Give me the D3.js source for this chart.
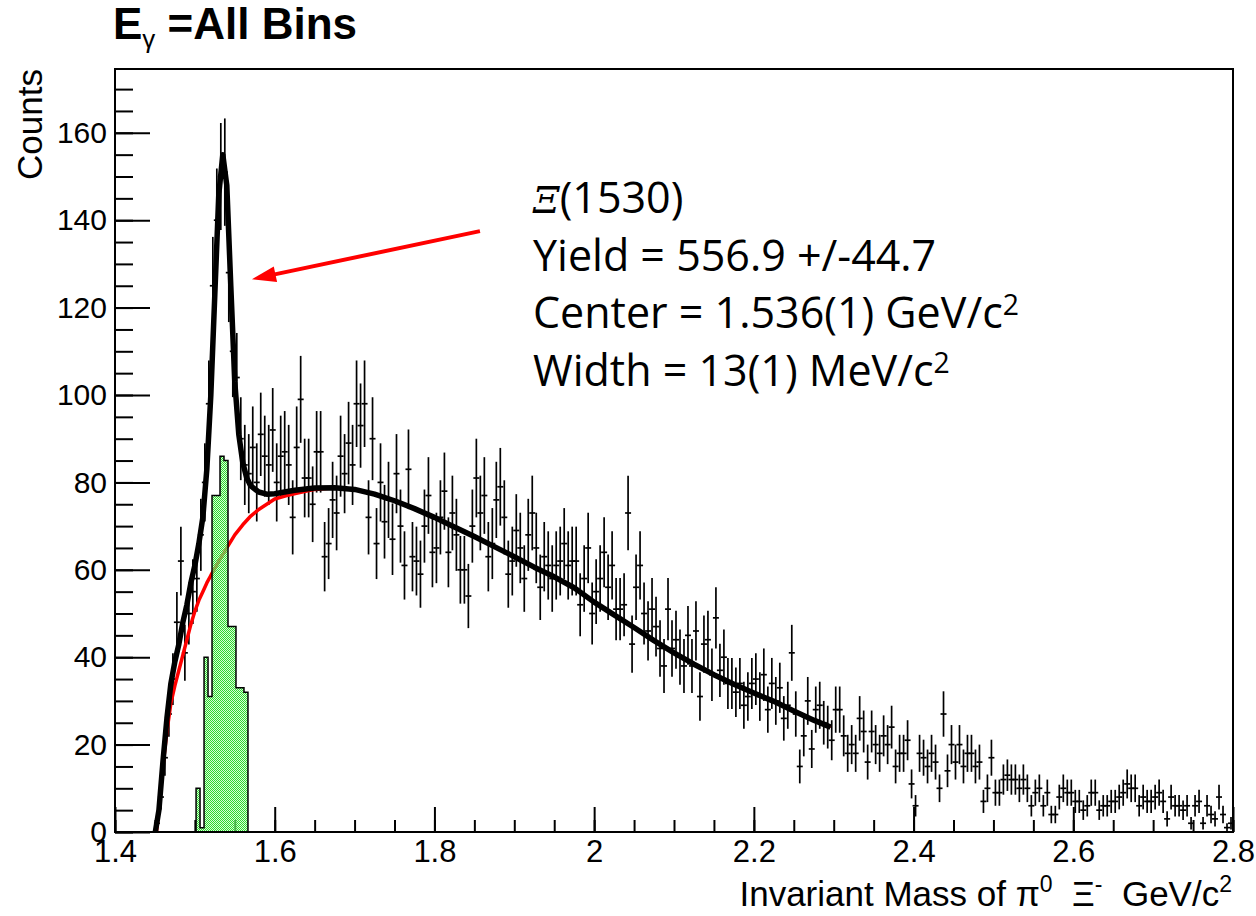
<!DOCTYPE html>
<html>
<head>
<meta charset="utf-8">
<script src="https://cdn.jsdelivr.net/npm/d3@7"></script>
<style>
  html, body { margin: 0; padding: 0; background: #fff; }
  svg { display: block; }
  text { white-space: pre; }
</style>
</head>
<body>
<svg id="chart" width="1256" height="916"></svg>
<script>
// ---- axis ticks ----
const xTickValues = [1.4, 1.6, 1.8, 2.0, 2.2, 2.4, 2.6, 2.8];
const xMinorStep = 0.05;
const yTickValues = [0, 20, 40, 60, 80, 100, 120, 140, 160];
const yMinorStep = 5;

// ---- measured invariant-mass histogram (counts per 5 MeV bin, starting at 1.45 GeV) ----
const binLowEdge = 1.45;
const binWidth = 0.005;
const counts = [
  2, 8, 17, 27, 35, 48, 62, 41, 50, 55,
  58, 68, 80, 98, 125, 140, 150, 151, 128, 110,
  104, 90, 84, 82, 88, 80, 91, 86, 84, 92,
  80, 86, 87, 84, 72, 88, 99, 81, 81, 75,
  87, 87, 63, 66, 76, 73, 86, 82, 89, 84,
  98, 93, 98, 72, 90, 66, 80, 71, 76, 67,
  82, 70, 61, 83, 63, 62, 59, 70, 77, 64,
  65, 72, 78, 64, 73, 68, 60, 60, 54, 70,
  81, 73, 77, 63, 66, 76, 79, 72, 59, 62,
  69, 65, 58, 68, 73, 65, 56, 63, 61, 58,
  61, 62, 66, 61, 62, 62, 52, 58, 65, 50,
  55, 58, 64, 56, 61, 51, 51, 52, 73, 43,
  56, 61, 50, 46, 51, 47, 42, 38, 51, 42,
  44, 40, 38, 45, 38, 46, 31, 43, 44, 36,
  49, 37, 40, 34, 34, 32, 34, 29, 31, 34,
  35, 31, 36, 28, 34, 30, 33, 26, 29, 41,
  27, 15, 22, 30, 19, 28, 29, 25, 24, 21,
  28, 28, 22, 18, 20, 18, 26, 23, 16, 23,
  20, 18, 22, 20, 24, 15, 18, 18, 21, 11,
  6, 18, 17, 15, 18, 16, 10, 27, 14, 20,
  16, 20, 15, 18, 18, 15, 16, 7, 10, 17,
  9, 9, 12, 13, 12, 12, 10, 12, 10, 6,
  9, 10, 6, 9, 4, 4, 8, 10, 9, 9,
  7, 7, 5, 6, 9, 9, 5, 6, 6, 7,
  7, 8, 9, 11, 10, 10, 6, 8, 7, 7,
  8, 9, 7, 3, 8, 6, 6, 5, 6, 2,
  6, 7, 2, 6, 4, 3, 8, 4, 1, 2
];

// ---- extracted signal histogram ----
const signalLowEdge = 1.5015;
const signalCounts = [10, 1, 40, 31, 77, 77, 86, 85, 47, 47, 33, 33, 32];

// ---- total fit (signal + background) ----
const fitMass = [
  1.4505, 1.455, 1.46, 1.465, 1.47, 1.475, 1.48, 1.485, 1.49, 1.495,
  1.50, 1.505, 1.51, 1.515, 1.52, 1.525, 1.53, 1.535, 1.54, 1.545,
  1.55, 1.555, 1.56, 1.565, 1.57, 1.58, 1.59, 1.60, 1.625, 1.65,
  1.675, 1.70, 1.725, 1.75, 1.775, 1.80, 1.825, 1.85, 1.875, 1.90,
  1.925, 1.95, 1.975, 2.00, 2.025, 2.05, 2.075, 2.10, 2.125, 2.15,
  2.175, 2.20, 2.225, 2.25, 2.275, 2.296
];
const fitTotal = [
  0, 5, 16, 26, 34, 39, 43, 48, 52, 57,
  61, 66, 72, 83, 100, 123, 146, 155, 148, 125,
  103, 91, 84.5, 81, 79.2, 77.8, 77.3, 77.4, 78.2, 78.7,
  78.8, 78.4, 77.3, 75.8, 74, 72, 69.8, 67.6, 65.3, 63,
  60.6, 58.4, 55.9, 52.6, 49.7, 46.8, 43.8, 41, 38.4, 36,
  33.8, 31.8, 29.9, 27.7, 25.6, 24
];

// ---- background component ----
const bkgMass = [
  1.452, 1.46, 1.465, 1.47, 1.475, 1.48, 1.485, 1.49, 1.495, 1.50,
  1.505, 1.51, 1.515, 1.52, 1.525, 1.53, 1.54, 1.55, 1.56, 1.57,
  1.58, 1.59, 1.60, 1.615, 1.63, 1.65, 1.675, 1.70, 1.725, 1.75,
  1.775, 1.80, 1.825, 1.85, 1.875, 1.90, 1.925, 1.95, 1.975, 2.00,
  2.025, 2.05, 2.075, 2.10, 2.125, 2.15, 2.175, 2.20, 2.225, 2.25,
  2.275, 2.296
];
const bkgValues = [
  0, 15, 23, 29.5, 33.5, 37, 40.5, 44, 47.5, 50.5,
  53, 55, 57, 58.7, 60.3, 62, 65, 68, 70.3, 72.3,
  73.8, 75, 76.2, 77, 77.6, 78.4, 78.8, 78.4, 77.3, 75.8,
  74, 72, 69.8, 67.6, 65.3, 63, 60.6, 58.4, 55.9, 52.6,
  49.7, 46.8, 43.8, 41, 38.4, 36, 33.8, 31.8, 29.9, 27.7,
  25.6, 24
];

// ---- fit summary ----
const fitLines = [
  { kind: "name", text: "(1530)" },
  { kind: "plain", text: "Yield = 556.9 +/-44.7" },
  { kind: "sup", text: "Center = 1.536(1) GeV/c", sup: "2" },
  { kind: "sup", text: "Width = 13(1) MeV/c", sup: "2" }
];
// arrow from the summary toward the peak (data coordinates)
const arrowFrom = [1.857, 137.5];
const arrowTo = [1.5715, 126.5];

// ---------------------------------------------------------------
const svg = d3.select("#chart");
const frame = { left: 115, right: 1233, top: 69, bottom: 832 };
const helv = "'Liberation Sans', Arial, Helvetica, sans-serif";

const x = d3.scaleLinear().domain([1.4, 2.8]).range([frame.left, frame.right]);
const y = d3.scaleLinear().domain([0, 174.6]).range([frame.bottom, frame.top]);

const defs = svg.append("defs");
defs.append("clipPath").attr("id", "plotClip")
  .append("rect")
  .attr("x", frame.left).attr("y", frame.top)
  .attr("width", frame.right - frame.left).attr("height", frame.bottom - frame.top);

const pat = defs.append("pattern").attr("id", "greenFill")
  .attr("width", 2).attr("height", 2).attr("patternUnits", "userSpaceOnUse");
pat.append("rect").attr("x", 0).attr("y", 0).attr("width", 1).attr("height", 1).attr("fill", "#2ed82e");
pat.append("rect").attr("x", 1).attr("y", 1).attr("width", 1).attr("height", 1).attr("fill", "#2ed82e");
pat.append("rect").attr("x", 1).attr("y", 0).attr("width", 1).attr("height", 1).attr("fill", "#b8fab8").attr("fill-opacity", 0.55);
pat.append("rect").attr("x", 0).attr("y", 1).attr("width", 1).attr("height", 1).attr("fill", "#b8fab8").attr("fill-opacity", 0.55);

// ---- title ----
const title = svg.append("text")
  .attr("x", 113).attr("y", 39)
  .attr("font-family", helv).attr("font-weight", "bold").attr("font-size", 44)
  .attr("fill", "#000");
title.append("tspan").text("E");
title.append("tspan").attr("font-size", 26).attr("font-weight", "normal").attr("dy", 9).text("γ");
title.append("tspan").attr("dy", -9).text(" =All Bins");

// ---- axes ----
const xAxisG = svg.append("g").attr("transform", `translate(0,${frame.bottom})`);
const xMinor = d3.range(1.4, 2.8 + 1e-9, xMinorStep);
xAxisG.append("g")
  .call(d3.axisBottom(x).tickValues(xMinor).tickSizeInner(-12).tickSizeOuter(0).tickFormat(""))
  .call(g => g.select(".domain").remove());
xAxisG.append("g")
  .call(d3.axisBottom(x).tickValues(xTickValues).tickSizeInner(-25).tickSizeOuter(0).tickPadding(8)
    .tickFormat(d => String(+d.toFixed(1))))
  .call(g => g.select(".domain").remove())
  .call(g => g.selectAll("text").attr("font-family", helv).attr("font-size", 31).attr("fill", "#000"));

const yAxisG = svg.append("g").attr("transform", `translate(${frame.left},0)`);
const yMinor = d3.range(0, 174, yMinorStep);
yAxisG.append("g")
  .call(d3.axisLeft(y).tickValues(yMinor).tickSizeInner(-18).tickSizeOuter(0).tickFormat(""))
  .call(g => g.select(".domain").remove());
yAxisG.append("g")
  .call(d3.axisLeft(y).tickValues(yTickValues).tickSizeInner(-35).tickSizeOuter(0).tickPadding(8))
  .call(g => g.select(".domain").remove())
  .call(g => g.selectAll("text").attr("font-family", helv).attr("font-size", 30).attr("fill", "#000"));

svg.selectAll(".tick line").attr("stroke", "#000").attr("stroke-width", 2);

// axis titles
const xTitle = svg.append("text")
  .attr("x", 1232).attr("y", 906).attr("text-anchor", "end")
  .attr("font-family", helv).attr("font-size", 35).attr("fill", "#000");
xTitle.append("tspan").text("Invariant Mass of π");
xTitle.append("tspan").attr("font-size", 23).attr("dy", -14).text("0");
xTitle.append("tspan").attr("dy", 14).text("  Ξ");
xTitle.append("tspan").attr("font-size", 23).attr("dy", -14).text("-");
xTitle.append("tspan").attr("dy", 14).text("  GeV/c");
xTitle.append("tspan").attr("font-size", 23).attr("dy", -14).text("2");

svg.append("text")
  .attr("transform", `translate(42,${frame.top}) rotate(-90)`)
  .attr("text-anchor", "end")
  .attr("font-family", helv).attr("font-size", 35).attr("fill", "#000")
  .text("Counts");

// ---- plot contents ----
const plot = svg.append("g").attr("clip-path", "url(#plotClip)");

// data points with statistical error bars
const pts = counts.map((n, i) => ({
  lo: binLowEdge + i * binWidth,
  hi: binLowEdge + (i + 1) * binWidth,
  mid: binLowEdge + (i + 0.5) * binWidth,
  n,
  err: Math.sqrt(n)
}));
const ptG = plot.append("g").attr("stroke", "#000").attr("stroke-width", 1.7);
ptG.selectAll("line.v").data(pts).join("line").attr("class", "v")
  .attr("x1", d => x(d.mid)).attr("x2", d => x(d.mid))
  .attr("y1", d => y(Math.max(0, d.n - d.err))).attr("y2", d => y(d.n + d.err));
ptG.selectAll("line.h").data(pts).join("line").attr("class", "h")
  .attr("x1", d => x(d.lo) - 1).attr("x2", d => x(d.hi) + 1)
  .attr("y1", d => y(d.n)).attr("y2", d => y(d.n));

// background curve
const lineGen = d3.line().x(d => x(d[0])).y(d => y(d[1]));
plot.append("path")
  .datum(bkgMass.map((m, i) => [m, bkgValues[i]]))
  .attr("d", lineGen)
  .attr("fill", "none").attr("stroke", "#ff0000").attr("stroke-width", 3.5)
  .attr("stroke-linejoin", "round");

// signal histogram
const sigPts = [[x(signalLowEdge), y(0)]];
signalCounts.forEach((v, i) => {
  const lo = signalLowEdge + i * binWidth, hi = lo + binWidth;
  sigPts.push([x(lo), y(v)], [x(hi), y(v)]);
});
sigPts.push([x(signalLowEdge + signalCounts.length * binWidth), y(0)]);
plot.append("path")
  .attr("d", d3.line()(sigPts))
  .attr("fill", "url(#greenFill)")
  .attr("stroke", "#000").attr("stroke-width", 1.5);

// total fit
plot.append("path")
  .datum(fitMass.map((m, i) => [m, fitTotal[i]]))
  .attr("d", lineGen)
  .attr("fill", "none").attr("stroke", "#000").attr("stroke-width", 5.5)
  .attr("stroke-linejoin", "round");

// ---- frame ----
svg.append("rect")
  .attr("x", frame.left).attr("y", frame.top)
  .attr("width", frame.right - frame.left).attr("height", frame.bottom - frame.top)
  .attr("fill", "none").attr("stroke", "#000").attr("stroke-width", 2);

// ---- fit summary text ----
const bodyFont = "'Open Sans', Lato, 'Noto Sans', sans-serif";
const txtX = 533, txtY0 = 213, lineGap = 57.5, fs = 43;
fitLines.forEach((ln, i) => {
  const t = svg.append("text")
    .attr("x", txtX).attr("y", txtY0 + i * lineGap)
    .attr("font-family", bodyFont).attr("font-size", fs).attr("fill", "#000");
  if (ln.kind === "name") {
    t.append("tspan").attr("font-family", "'DejaVu Serif', 'Liberation Serif', serif")
      .attr("font-style", "italic").attr("font-size", fs * 0.88).text("Ξ");
    t.append("tspan").text(ln.text);
  } else if (ln.kind === "sup") {
    t.append("tspan").text(ln.text);
    t.append("tspan").attr("font-size", fs * 0.66).attr("dy", -fs * 0.3).text(ln.sup);
  } else {
    t.text(ln.text);
  }
});

// arrow
const ax0 = x(arrowFrom[0]), ay0 = y(arrowFrom[1]);
const ax1 = x(arrowTo[0]), ay1 = y(arrowTo[1]);
const ang = Math.atan2(ay1 - ay0, ax1 - ax0);
const headLen = 24, headHalf = 8;
const bx = ax1 - headLen * Math.cos(ang), by = ay1 - headLen * Math.sin(ang);
svg.append("line")
  .attr("x1", ax0).attr("y1", ay0).attr("x2", bx + 2 * Math.cos(ang)).attr("y2", by + 2 * Math.sin(ang))
  .attr("stroke", "#ff0000").attr("stroke-width", 4);
svg.append("path")
  .attr("d", d3.line()([
    [ax1, ay1],
    [bx + headHalf * Math.sin(ang), by - headHalf * Math.cos(ang)],
    [bx - headHalf * Math.sin(ang), by + headHalf * Math.cos(ang)]
  ]) + "Z")
  .attr("fill", "#ff0000");
</script>
</body>
</html>
